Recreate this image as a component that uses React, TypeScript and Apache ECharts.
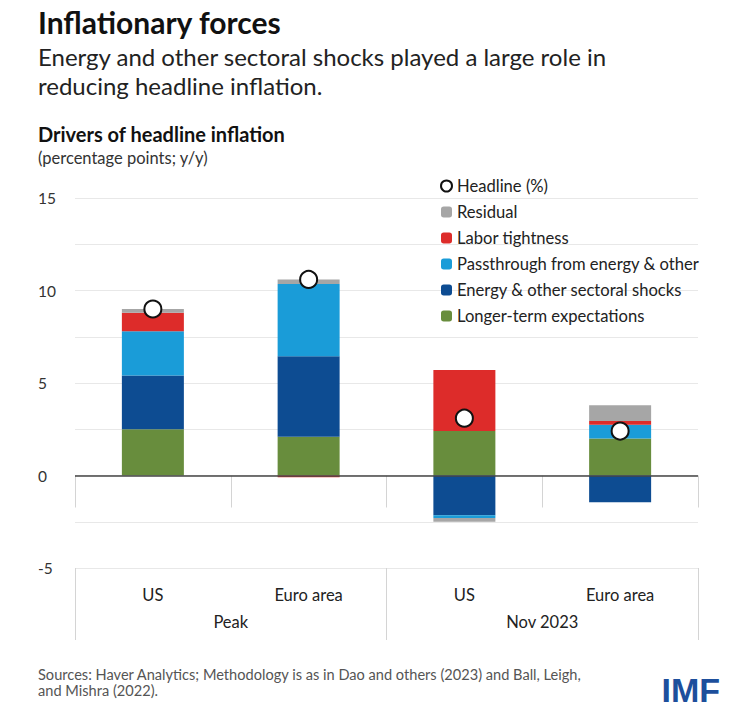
import React, { useEffect, useRef } from "react";
import * as echarts from "echarts";

const categories = ["US", "Euro area", "US", "Euro area"];
const groups = ["Peak", "Nov 2023"];
const longerTerm = [2.5, 2.1, 2.4, 2.0];
const energyShocks = [2.9, 4.35, -2.15, -1.45];
const passthrough = [2.4, 3.9, -0.15, 0.75];
const labor = [1.0, -0.1, 3.3, 0.2];
const residual = [0.2, 0.25, -0.2, 0.85];
const headline = [9.0, 10.6, 3.1, 2.4];

const FONT = "Lato";

export default function App() {
  const ref = useRef<HTMLDivElement>(null);
  useEffect(() => {
    document.body.style.margin = "0";
    const chart = echarts.init(ref.current!, null, { renderer: "svg" });
    const barBase = {
      type: "bar",
      stack: "total",
      barWidth: 62,
      xAxisIndex: 0,
      yAxisIndex: 0,
    };
    chart.setOption({
      animation: false,
      backgroundColor: "#ffffff",
      textStyle: { fontFamily: FONT },
      title: [
        {
          text: "Inflationary forces",
          left: 38,
          top: 7,
          padding: 0,
          textStyle: { fontFamily: FONT, fontSize: 30, fontWeight: "bold", color: "#111" },
        },
        {
          text: "Energy and other sectoral shocks played a large role in\nreducing headline inflation.",
          left: 38,
          top: 42,
          padding: 0,
          textStyle: { fontFamily: FONT, fontSize: 24, fontWeight: "normal", color: "#222", lineHeight: 29 },
        },
        {
          text: "Drivers of headline inflation",
          left: 38,
          top: 124,
          padding: 0,
          textStyle: { fontFamily: FONT, fontSize: 20, fontWeight: "bold", color: "#111" },
        },
        {
          text: "(percentage points; y/y)",
          left: 38,
          top: 149,
          padding: 0,
          textStyle: { fontFamily: FONT, fontSize: 16.5, fontWeight: "normal", color: "#333" },
        },
        {
          text: "Sources: Haver Analytics; Methodology is as in Dao and others (2023) and Ball, Leigh,\nand Mishra (2022).",
          left: 38,
          top: 666,
          padding: 0,
          textStyle: { fontFamily: FONT, fontSize: 14.6, fontWeight: "normal", color: "#555", lineHeight: 16.5 },
        },
      ],
      graphic: [
        {
          type: "text",
          right: 9,
          top: 673,
          style: {
            text: "IMF",
            fontFamily: "Liberation Sans",
            fontWeight: "bold",
            fontSize: 34,
            fill: "#1d4f9c",
          },
        },
      ],
      legend: {
        orient: "vertical",
        left: 440,
        top: 177,
        itemWidth: 11,
        itemHeight: 11,
        itemGap: 8,
        padding: 0,
        textStyle: { fontFamily: FONT, fontSize: 16.6, color: "#222", lineHeight: 18 },
        data: [
          { name: "Headline (%)", icon: "circle", itemStyle: { color: "#fff", borderColor: "#111", borderWidth: 2 } },
          "Residual",
          "Labor tightness",
          "Passthrough from energy & other",
          "Energy & other sectoral shocks",
          "Longer-term expectations",
        ],
      },
      grid: { left: 75, right: 31, top: 198, bottom: 147 },
      xAxis: [
        {
          type: "category",
          data: categories,
          position: "bottom",
          axisLine: { show: false },
          axisTick: { show: true, interval: 0, length: 32, lineStyle: { color: "#d4d4d4" } },
          axisLabel: { interval: 0, margin: 18, fontFamily: FONT, fontSize: 16.5, color: "#222" },
          splitLine: { show: false },
        },
        {
          type: "category",
          data: groups,
          position: "bottom",
          axisLine: { show: false },
          axisTick: { show: true, interval: 0, length: 72, lineStyle: { color: "#d4d4d4" } },
          axisLabel: { interval: 0, margin: 45, fontFamily: FONT, fontSize: 16.5, color: "#222" },
          splitLine: { show: false },
        },
      ],
      yAxis: {
        type: "value",
        min: -5,
        max: 15,
        interval: 2.5,
        axisLine: { show: false },
        axisTick: { show: false },
        splitLine: { show: true, lineStyle: { color: "#e8e8e8", width: 1 } },
        axisLabel: {
          align: "left",
          margin: 37,
          fontFamily: FONT,
          fontSize: 15.5,
          color: "#333",
          formatter: (v: number) => (v % 5 === 0 ? String(v) : ""),
        },
      },
      series: [
        {
          ...barBase,
          name: "Longer-term expectations",
          data: longerTerm,
          itemStyle: { color: "#688d3d" },
          markLine: {
            silent: true,
            symbol: "none",
            label: { show: false },
            lineStyle: { color: "#444", type: "solid", width: 1.5 },
            data: [{ yAxis: 0 }],
          },
        },
        { ...barBase, name: "Energy & other sectoral shocks", data: energyShocks, itemStyle: { color: "#0d4c92" } },
        { ...barBase, name: "Passthrough from energy & other", data: passthrough, itemStyle: { color: "#1a9cd8" } },
        { ...barBase, name: "Labor tightness", data: labor, itemStyle: { color: "#dd2c2a" } },
        { ...barBase, name: "Residual", data: residual, itemStyle: { color: "#a6a6a6" } },
        {
          type: "scatter",
          name: "Headline (%)",
          data: headline,
          xAxisIndex: 0,
          yAxisIndex: 0,
          symbol: "circle",
          symbolSize: 17,
          z: 5,
          itemStyle: { color: "#fff", borderColor: "#111", borderWidth: 2, opacity: 1 },
        },
      ],
    });
    return () => chart.dispose();
  }, []);
  return (
    <div
      ref={ref}
      style={{ position: "fixed", left: 0, top: 0, width: 729, height: 715 }}
    />
  );
}
